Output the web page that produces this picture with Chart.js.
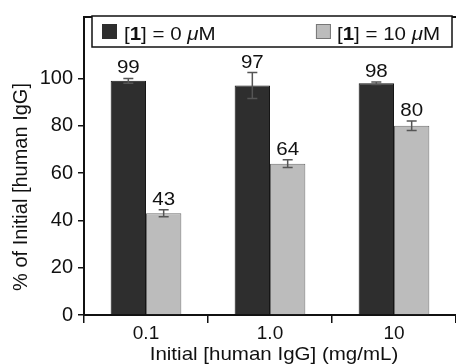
<!DOCTYPE html>
<html>
<head>
<meta charset="utf-8">
<script src="https://cdn.jsdelivr.net/npm/chart.js@4"></script>
<style>
  html, body { margin: 0; padding: 0; background: #fff; }
  #wrap { width: 456px; height: 364px; }
</style>
</head>
<body>
<div id="wrap"><canvas id="myChart" width="456" height="364"></canvas></div>
<script>
const categories = ['0.1', '1.0', '10'];
const seriesLabels = ['[1] = 0 μM', '[1] = 10 μM'];
const control = [99, 97, 98];
const controlErr = [1, 5.5, 0.5];
const treated = [43, 64, 80];
const treatedErr = [1.5, 1.6, 2];
const yTicks = [0, 20, 40, 60, 80, 100];

const FONT = "'Liberation Sans', Arial, sans-serif";
const ink = '#111';
const SX = 1.08; // text in the figure is a little wide

// draws "[1] = 0 μM" with bold 1 and italic μ
function drawRich(c, text, x, y, size, measureOnly) {
    let bold = false, x0 = x;
    for (const ch of text) {
        let style = '';
        if (ch === '[') { bold = true; }
        else if (ch === ']') { bold = false; }
        else if (bold) style = 'bold ';
        else if (ch === 'μ') style = 'italic ';
        c.font = style + size + 'px ' + FONT;
        if (!measureOnly) c.fillText(ch, x, y);
        x += c.measureText(ch).width;
    }
    return x - x0;
}

const extras = {
    id: 'extras',
    afterDatasetsDraw(chart) {
        const c = chart.ctx;
        const y = chart.scales.y;
        const errs = [controlErr, treatedErr];
        c.save();
        chart.data.datasets.forEach((ds, i) => {
            chart.getDatasetMeta(i).data.forEach((bar, j) => {
                const v = ds.data[j], e = errs[i][j];
                const top = y.getPixelForValue(v + e), bot = y.getPixelForValue(v - e);
                c.strokeStyle = '#555';
                c.lineWidth = 1.5;
                c.beginPath();
                c.moveTo(bar.x, top); c.lineTo(bar.x, bot);
                c.moveTo(bar.x - 5, top); c.lineTo(bar.x + 5, top);
                c.moveTo(bar.x - 5, bot); c.lineTo(bar.x + 5, bot);
                c.stroke();
                c.save();
                c.fillStyle = ink;
                c.font = '19px ' + FONT;
                c.textAlign = 'center';
                c.textBaseline = 'alphabetic';
                c.translate(bar.x, top - 5);
                c.scale(SX, 1);
                c.fillText(String(v), 0, 0);
                c.restore();
            });
        });
        c.restore();
    },
    afterDraw(chart) {
        const c = chart.ctx;
        const a = chart.chartArea;
        c.save();
        // top frame line
        c.strokeStyle = ink;
        c.lineWidth = 2;
        c.beginPath();
        c.moveTo(a.left, a.top); c.lineTo(a.right, a.top);
        c.stroke();

        // legend box
        const bx = 92, by = 16, bw = 360, bh = 31;
        c.fillStyle = '#fff';
        c.fillRect(bx, by, bw, bh);
        c.lineWidth = 1.5;
        c.strokeRect(bx, by, bw, bh);
        const size = 19;
        c.textBaseline = 'alphabetic';
        c.textAlign = 'left';
        const ds = chart.data.datasets;
        c.fillStyle = ds[0].backgroundColor;
        c.fillRect(102, 24, 15, 15);
        c.save();
        c.translate(124, 39.5);
        c.scale(SX, 1);
        c.fillStyle = ink;
        drawRich(c, seriesLabels[0], 0, 0, size);
        c.restore();

        const w = drawRich(c, seriesLabels[1], 0, 0, size, true) * SX;
        const tx = bx + bw - 12 - w;
        c.fillStyle = ds[1].backgroundColor;
        c.fillRect(tx - 21, 24, 15, 15);
        c.strokeStyle = '#777';
        c.lineWidth = 1;
        c.strokeRect(tx - 20.5, 24.5, 14, 14);
        c.save();
        c.translate(tx, 39.5);
        c.scale(SX, 1);
        c.fillStyle = ink;
        drawRich(c, seriesLabels[1], 0, 0, size);
        c.restore();

        // axis titles
        c.fillStyle = ink;
        c.font = '19px ' + FONT;
        c.textAlign = 'center';
        c.save();
        c.translate((a.left + a.right) / 2 + 4, 360);
        c.scale(SX, 1);
        c.fillText('Initial [human IgG] (mg/mL)', 0, 0);
        c.restore();
        c.font = '20px ' + FONT;
        c.translate(27, 187);
        c.rotate(-Math.PI / 2);
        c.fillText('% of Initial [human IgG]', 0, 0);
        c.restore();
    }
};

new Chart(document.getElementById('myChart'), {
    type: 'bar',
    data: {
        labels: categories,
        datasets: [{
            label: seriesLabels[0],
            data: control,
            backgroundColor: '#2e2e2e',
            borderColor: '#151515',
            borderWidth: 1
        }, {
            label: seriesLabels[1],
            data: treated,
            backgroundColor: '#bcbcbc',
            borderColor: '#6e6e6e',
            borderWidth: 1
        }]
    },
    options: {
        responsive: false,
        animation: false,
        layout: { padding: { top: 12, left: 0, right: 0, bottom: 0 } },
        datasets: { bar: { categoryPercentage: 0.57, barPercentage: 1 } },
        plugins: { legend: { display: false }, tooltip: { enabled: false } },
        scales: {
            x: {
                afterFit(s) { s.height = 49; },
                grid: { display: true, drawOnChartArea: false, drawTicks: true, tickLength: 8, color: ink, lineWidth: 1.5, offset: true },
                border: { display: true, color: ink, width: 2 },
                ticks: { color: ink, font: { family: FONT, size: 19 }, padding: -1 }
            },
            y: {
                min: 0,
                max: 126,
                afterFit(s) { s.width = 84; },
                afterBuildTicks(s) { s.ticks = yTicks.map(v => ({ value: v })); },
                grid: { display: true, drawOnChartArea: false, drawTicks: true, tickLength: 6, color: ink, lineWidth: 1.5 },
                border: { display: true, color: ink, width: 2 },
                ticks: { color: ink, font: { family: FONT, size: 20 }, padding: 5 }
            }
        }
    },
    plugins: [extras]
});
</script>
</body>
</html>
